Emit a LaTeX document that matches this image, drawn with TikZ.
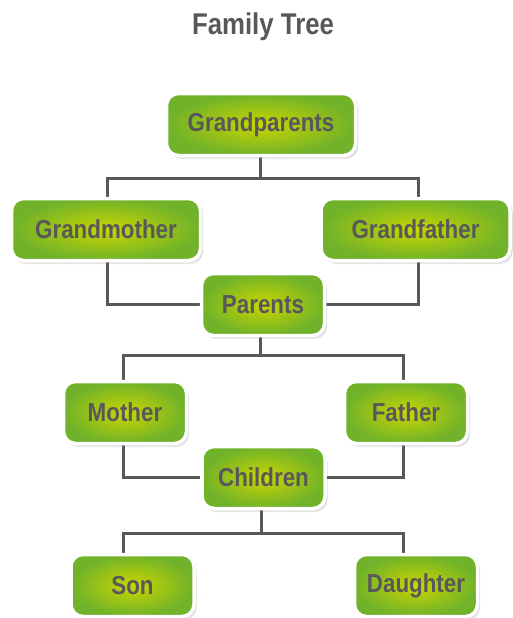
\documentclass[tikz,border=0pt]{standalone}
\usepackage{fontspec}
\setmainfont{Liberation Sans}[FakeStretch=0.86]
\usetikzlibrary{shadows,backgrounds}
\definecolor{leafin}{RGB}{202,214,0}
\definecolor{leafout}{RGB}{112,178,42}
\definecolor{bark}{RGB}{88,88,90}
\begin{document}
\begin{tikzpicture}[x=1pt,y=-1pt,
	member/.style={rectangle,rounded corners=12pt,draw=white,line width=3.5pt,
		inner color=leafin,outer color=leafout,
		drop shadow={shadow scale=1.02,shadow xshift=1pt,shadow yshift=-1pt,opacity=0.12},
		drop shadow={shadow xshift=2.5pt,shadow yshift=-3.5pt,opacity=0.2},
		minimum height=62pt,inner sep=0pt,text=bark,
		font=\fontsize{26}{30}\selectfont\bfseries},
	wide/.style={minimum width=189pt},
	narrow/.style={minimum width=123pt},
	link/.style={draw=bark,line width=3pt}]
	% frame of the page
	\useasboundingbox (0,0) rectangle (512,618);
	% the title
	\node[text=bark,font=\fontsize{30}{34}\selectfont\bfseries] (title) at (263,27) {Family Tree};
	% first generation
	\node[member,wide] (gp) at (261,124.5) {Grandparents};
	\node[member,wide] (gm) at (106,229.5) {Grandmother};
	\node[member,wide] (gf) at (415.5,229.5) {Grandfather};
	% second generation
	\node[member,narrow] (pa) at (263,304.5) {Parents};
	\node[member,narrow] (mo) at (125,412.5) {Mother};
	\node[member,narrow] (fa) at (406,412.5) {Father};
	% third generation
	\node[member,narrow] (ch) at (263.5,477.5) {Children};
	\node[member,narrow] (so) at (132.5,585.5) {Son};
	\node[member,narrow] (da) at (416,585.5) {Daughter};
	% junctions of the bars
	\coordinate (j1) at (260,178);
	\coordinate (j2) at (260,355);
	\coordinate (j3) at (261,533);
	\begin{scope}[on background layer]
		% Grandparents to Parents
		\draw[link] (gp.south -| j1) -- (j1) -| ([xshift=1pt]gm.north);
		\draw[link] (j1) -| ([xshift=2.5pt]gf.north);
		\draw[link] ([xshift=1pt]gm.south) |- (pa.west);
		\draw[link] ([xshift=2.5pt]gf.south) |- (pa.east);
		% Parents to Children
		\draw[link] (pa.south -| j2) -- (j2) -| ([xshift=-2pt]mo.north);
		\draw[link] (j2) -| ([xshift=-3pt]fa.north);
		\draw[link] ([xshift=-2pt]mo.south) |- (ch.west);
		\draw[link] ([xshift=-3pt]fa.south) |- (ch.east);
		% Children to Son and Daughter
		\draw[link] (ch.south -| j3) -- (j3) -| ([xshift=-9.5pt]so.north);
		\draw[link] (j3) -| ([xshift=-13pt]da.north);
	\end{scope}
\end{tikzpicture}
\end{document}
